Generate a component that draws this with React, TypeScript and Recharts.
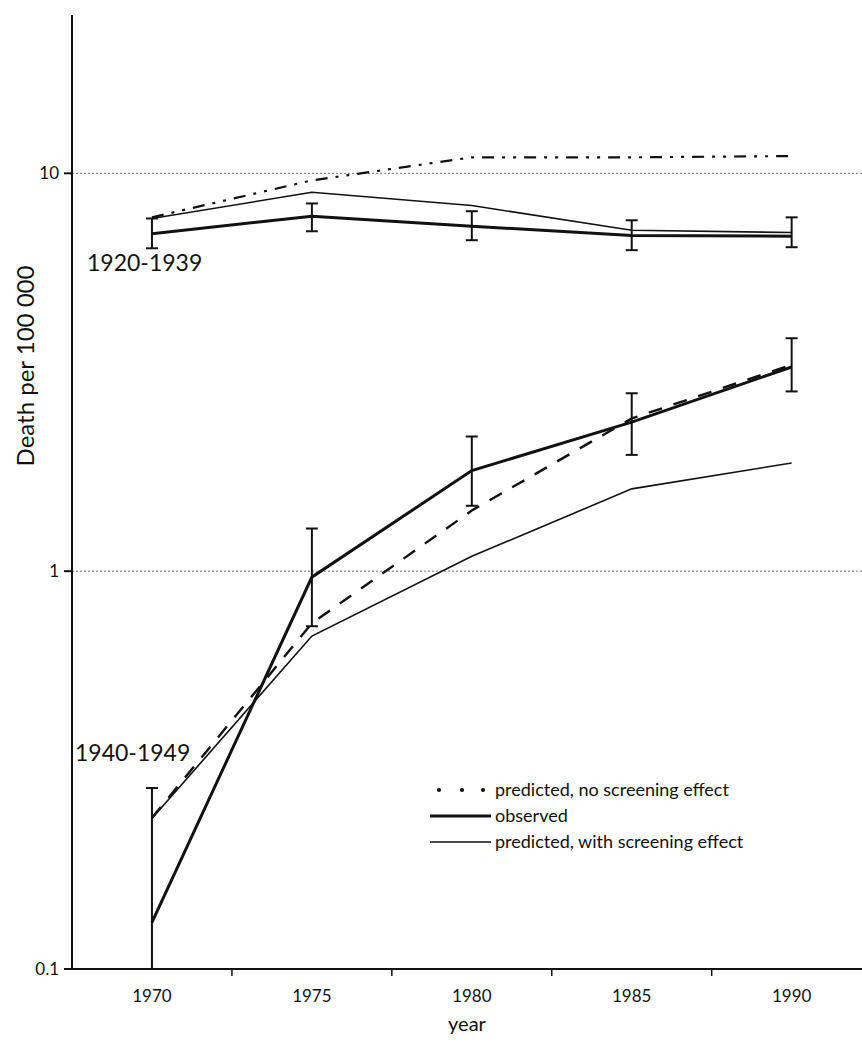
import {
  ComposedChart,
  Line,
  XAxis,
  YAxis,
  ReferenceLine,
  ErrorBar,
  Label,
} from "recharts";

const years = [1970, 1975, 1980, 1985, 1990];

// birth cohort 1920-1939
const observedOld = [7.05, 7.8, 7.36, 6.98, 6.95];
const observedOldLow = [6.48, 7.15, 6.79, 6.41, 6.52];
const observedOldHigh = [7.7, 8.4, 8.03, 7.62, 7.75];
const screeningOld = [7.7, 8.96, 8.3, 7.19, 7.1];
const noScreeningOld = [7.75, 9.6, 10.97, 10.97, 11.05];

// birth cohort 1940-1949
const observedYoung = [0.131, 0.966, 1.79, 2.37, 3.26];
const observedYoungLow = [0.1, 0.727, 1.46, 1.96, 2.83];
const observedYoungHigh = [0.285, 1.28, 2.18, 2.8, 3.85];
const screeningYoung = [0.239, 0.687, 1.09, 1.61, 1.87];
const noScreeningYoung = [0.24, 0.74, 1.42, 2.42, 3.3];

const yTicks = [0.1, 1, 10];
const gridValues = [1, 10];
const xTicks = [1970, 1972.5, 1975, 1977.5, 1980, 1982.5, 1985, 1987.5, 1990];

const legendItems = [
  { label: "predicted, no screening effect", kind: "dots" },
  { label: "observed", kind: "thick" },
  { label: "predicted, with screening effect", kind: "thin" },
];

const FONT = "Lato, 'Open Sans', sans-serif";
const INK = "#111";

const data = years.map((year, i) => ({
  year,
  observedOld: observedOld[i],
  observedOldErr: [observedOld[i] - observedOldLow[i], observedOldHigh[i] - observedOld[i]],
  screeningOld: screeningOld[i],
  noScreeningOld: noScreeningOld[i],
  observedYoung: observedYoung[i],
  observedYoungErr: [
    observedYoung[i] - observedYoungLow[i],
    observedYoungHigh[i] - observedYoung[i],
  ],
  screeningYoung: screeningYoung[i],
  noScreeningYoung: noScreeningYoung[i],
}));

// labels on whole years, short tick marks between them
function YearTick({ x, y, payload }: any) {
  const v = payload.value;
  if (Number.isInteger(v)) {
    return (
      <text x={x} y={y} dy="0.71em" textAnchor="middle" fontSize={17} fill={INK} fontFamily={FONT}>
        {v}
      </text>
    );
  }
  return <line x1={x} x2={x} y1={y - 21} y2={y - 14} stroke={INK} strokeWidth={1.5} />;
}

function LegendBox() {
  return (
    <svg width={340} height={80} style={{ fontFamily: FONT, display: "block" }}>
      {legendItems.map((item, i) => {
        const cy = 12 + i * 26;
        return (
          <g key={item.label}>
            {item.kind === "dots" ? (
              [14, 37, 58].map((cx) => <circle key={cx} cx={cx} cy={cy} r={2.1} fill={INK} />)
            ) : (
              <line
                x1={5}
                x2={66}
                y1={cy}
                y2={cy}
                stroke={INK}
                strokeWidth={item.kind === "thick" ? 3 : 1.4}
              />
            )}
            <text x={70} y={cy} dy="0.32em" fontSize={18} fill={INK}>
              {item.label}
            </text>
          </g>
        );
      })}
    </svg>
  );
}

const cohortLabel = {
  position: "absolute" as const,
  fontFamily: FONT,
  fontSize: 23,
  color: INK,
  lineHeight: "28px",
};

export default function App() {
  return (
    <div style={{ position: "absolute", left: 0, top: 0, width: 862, height: 1049, background: "#fff" }}>
      <ComposedChart
        width={862}
        height={1049}
        data={data}
        margin={{ top: 15, right: 0, bottom: 14, left: 8 }}
      >
        <XAxis
          dataKey="year"
          type="number"
          domain={[1967.5, 1992.2]}
          ticks={xTicks}
          allowDataOverflow
          interval={0}
          tickLine={false}
          tickSize={0}
          tickMargin={21}
          tick={<YearTick />}
          height={66}
          stroke={INK}
          strokeWidth={2}
        >
          <Label
            content={({ viewBox }: any) => (
              <text
                x={viewBox.x + viewBox.width / 2}
                y={1026}
                textAnchor="middle"
                dominantBaseline="middle"
                fontSize={20}
                fill={INK}
                fontFamily={FONT}
              >
                year
              </text>
            )}
          />
        </XAxis>
        <YAxis
          type="number"
          scale="log"
          domain={[0.1, 25]}
          ticks={yTicks}
          allowDataOverflow
          width={64}
          tickSize={8}
          tickMargin={5}
          tickFormatter={(v: number) => String(v)}
          tick={{ fill: INK, fontSize: 17, fontFamily: FONT }}
          stroke={INK}
          strokeWidth={2}
        >
          <Label
            content={() => (
              <text
                x={28}
                y={366}
                transform="rotate(-90 28 366)"
                textAnchor="middle"
                dominantBaseline="middle"
                fontSize={24}
                fill={INK}
                fontFamily={FONT}
              >
                Death per 100 000
              </text>
            )}
          />
        </YAxis>

        {gridValues.map((v) => (
          <ReferenceLine key={v} y={v} stroke="#777" strokeDasharray="2 2" strokeWidth={1} />
        ))}

        <Line
          dataKey="screeningOld"
          stroke={INK}
          strokeWidth={1.6}
          dot={false}
          isAnimationActive={false}
        />
        <Line
          dataKey="noScreeningOld"
          stroke={INK}
          strokeWidth={2.2}
          strokeDasharray="12 8 3 8 3 8"
          dot={false}
          isAnimationActive={false}
        />
        <Line
          dataKey="observedOld"
          stroke={INK}
          strokeWidth={3}
          dot={false}
          isAnimationActive={false}
        >
          <ErrorBar dataKey="observedOldErr" direction="y" width={6} stroke={INK} strokeWidth={2} />
        </Line>

        <Line
          dataKey="screeningYoung"
          stroke={INK}
          strokeWidth={1.6}
          dot={false}
          isAnimationActive={false}
        />
        <Line
          dataKey="noScreeningYoung"
          stroke={INK}
          strokeWidth={2.4}
          strokeDasharray="14 12"
          dot={false}
          isAnimationActive={false}
        />
        <Line
          dataKey="observedYoung"
          stroke={INK}
          strokeWidth={3}
          dot={false}
          isAnimationActive={false}
        >
          <ErrorBar dataKey="observedYoungErr" direction="y" width={6} stroke={INK} strokeWidth={2} />
        </Line>
      </ComposedChart>

      <div style={{ position: "absolute", left: 425, top: 778 }}>
        <LegendBox />
      </div>
      <div style={{ ...cohortLabel, left: 87, top: 248 }}>1920-1939</div>
      <div style={{ ...cohortLabel, left: 75, top: 738 }}>1940-1949</div>
    </div>
  );
}
